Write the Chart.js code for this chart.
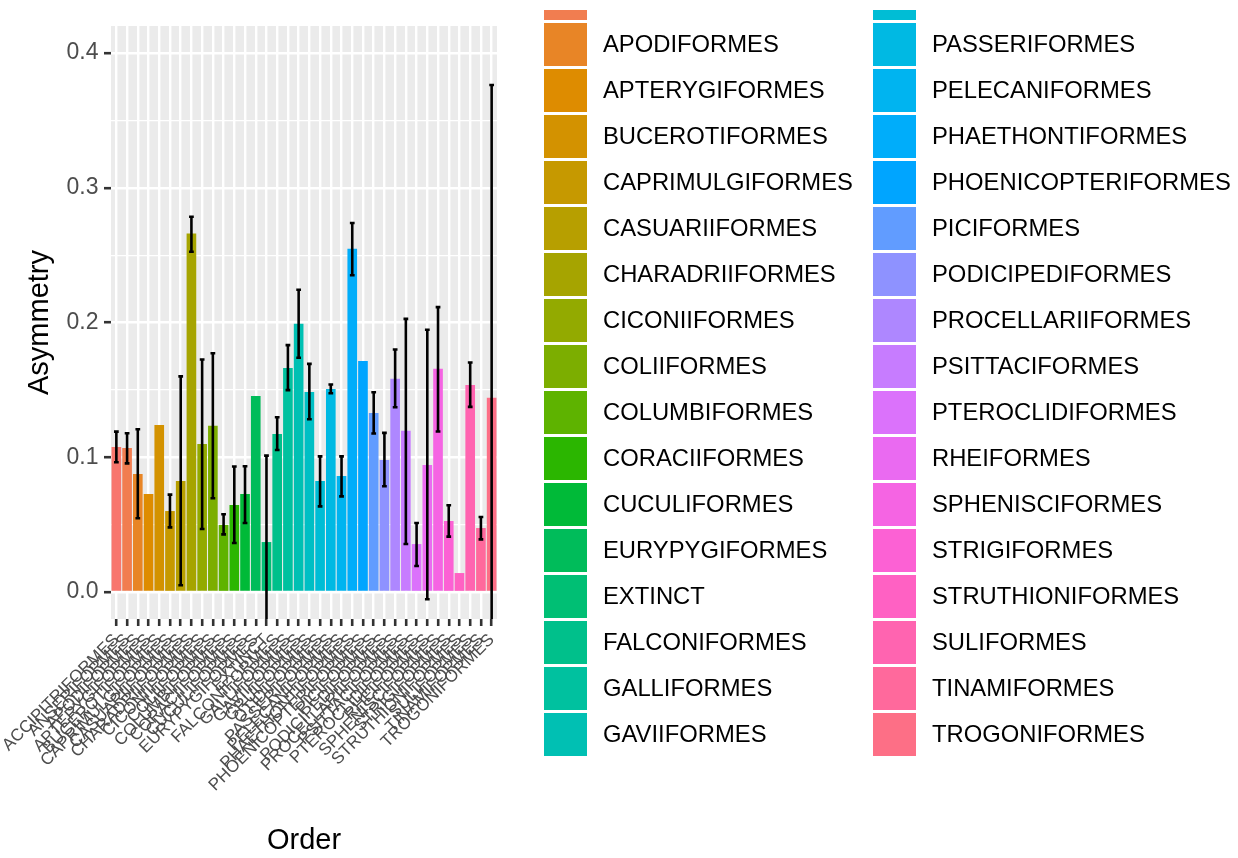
<!DOCTYPE html>
<html>
<head>
<meta charset="utf-8">
<script src="https://cdn.jsdelivr.net/npm/chart.js@4.4.1/dist/chart.umd.min.js"></script>
<style>
  html, body { margin: 0; padding: 0; background: #ffffff; }
  canvas { display: block; }
</style>
</head>
<body>
<canvas id="chart" width="1238" height="858"></canvas>
<script>
// Bird orders on the x axis (also the fill legend)
const orders = [
  'ACCIPITRIFORMES', 'ANSERIFORMES', 'APODIFORMES', 'APTERYGIFORMES', 'BUCEROTIFORMES',
  'CAPRIMULGIFORMES', 'CASUARIIFORMES', 'CHARADRIIFORMES', 'CICONIIFORMES', 'COLIIFORMES',
  'COLUMBIFORMES', 'CORACIIFORMES', 'CUCULIFORMES', 'EURYPYGIFORMES', 'EXTINCT',
  'FALCONIFORMES', 'GALLIFORMES', 'GAVIIFORMES', 'GRUIFORMES', 'OTIDIFORMES',
  'PASSERIFORMES', 'PELECANIFORMES', 'PHAETHONTIFORMES', 'PHOENICOPTERIFORMES', 'PICIFORMES',
  'PODICIPEDIFORMES', 'PROCELLARIIFORMES', 'PSITTACIFORMES', 'PTEROCLIDIFORMES', 'RHEIFORMES',
  'SPHENISCIFORMES', 'STRIGIFORMES', 'STRUTHIONIFORMES', 'SULIFORMES', 'TINAMIFORMES',
  'TROGONIFORMES'
];

// Mean asymmetry per order
const asymmetry = [
  0.1077, 0.1069, 0.0876, 0.0728, 0.1240,
  0.0601, 0.0824, 0.2661, 0.1099, 0.1233,
  0.0498, 0.0646, 0.0728, 0.1455, 0.0371,
  0.1173, 0.1663, 0.1990, 0.1485, 0.0824,
  0.1507, 0.0861, 0.2547, 0.1715, 0.1329,
  0.0980, 0.1582, 0.1196, 0.0356, 0.0943,
  0.1656, 0.0527, 0.0141, 0.1537, 0.0475,
  0.1441
];

// Error bar ends (null where an order has a single value)
const errLower = [
  0.0963, 0.0955, 0.0547, null, null,
  0.0480, 0.0050, 0.2525, 0.0468, 0.0696,
  0.0428, 0.0364, 0.0512, null, -0.0270,
  0.1054, 0.1498, 0.1738, 0.1282, 0.0636,
  0.1475, 0.0710, 0.2351, null, 0.1176,
  0.0785, 0.1371, 0.0356, 0.0193, -0.0054,
  0.1191, 0.0411, null, 0.1374, 0.0391,
  -0.0880
];
const errUpper = [
  0.1190, 0.1178, 0.1208, null, null,
  0.0723, 0.1600, 0.2785, 0.1725, 0.1772,
  0.0577, 0.0931, 0.0933, null, 0.1012,
  0.1297, 0.1832, 0.2243, 0.1693, 0.1007,
  0.1540, 0.1007, 0.2738, null, 0.1483,
  0.1181, 0.1800, 0.2027, 0.0512, 0.1946,
  0.2114, 0.0644, null, 0.1703, 0.0557,
  0.3762
];

// Y axis: labelled major ticks and unlabelled minor grid lines
const yMajorTicks = [0.0, 0.1, 0.2, 0.3, 0.4];
const yTickLabels = ['0.0', '0.1', '0.2', '0.3', '0.4'];
const yMinorTicks = [0.05, 0.15, 0.25, 0.35];

// ggplot-style hue palette (HCL, c = 100, l = 65)
function hclColor(h, c, l) {
  const hr = h * Math.PI / 180;
  const U = c * Math.cos(hr), V = c * Math.sin(hr);
  const Xn = 95.047, Yn = 100.0, Zn = 108.883;
  const den = Xn + 15 * Yn + 3 * Zn;
  const un = 4 * Xn / den, vn = 9 * Yn / den;
  const Y = Yn * (l > 8 ? Math.pow((l + 16) / 116, 3) : l / 903.3);
  const u = U / (13 * l) + un, v = V / (13 * l) + vn;
  const X = 9 * Y * u / (4 * v);
  const Z = Y * (12 - 3 * u - 20 * v) / (4 * v);
  const x = X / 100, y = Y / 100, z = Z / 100;
  const lin = [
    3.240479 * x - 1.537150 * y - 0.498535 * z,
    -0.969256 * x + 1.875992 * y + 0.041556 * z,
    0.055648 * x - 0.204043 * y + 1.057311 * z
  ];
  const gam = t => t <= 0.0031308 ? 12.92 * t : 1.055 * Math.pow(t, 1 / 2.4) - 0.055;
  const out = lin.map(t => Math.round(255 * Math.min(1, Math.max(0, gam(t)))));
  return 'rgb(' + out.join(',') + ')';
}
const hueColors = orders.map((_, i) => hclColor(15 + 360 * i / orders.length, 100, 65));

const FONT = '"Liberation Sans", Arial, Helvetica, sans-serif';
Chart.defaults.font.family = FONT;

// Grey panel background behind the grid
const panelBackground = {
  id: 'panelBackground',
  beforeDraw(chart) {
    const { ctx, chartArea: a } = chart;
    ctx.save();
    ctx.fillStyle = '#EBEBEB';
    ctx.fillRect(a.left, a.top, a.right - a.left, a.bottom - a.top);
    ctx.restore();
  }
};

// Vertical error bars with small caps
const errorBars = {
  id: 'errorBars',
  afterDatasetsDraw(chart) {
    const { ctx, chartArea: a, scales: { x, y } } = chart;
    const half = (a.right - a.left) / orders.length * 0.1;
    ctx.save();
    ctx.beginPath();
    ctx.rect(a.left, a.top, a.right - a.left, a.bottom - a.top);
    ctx.clip();
    ctx.strokeStyle = '#000000';
    ctx.lineWidth = 2.6;
    ctx.lineCap = 'square';
    orders.forEach((_, i) => {
      if (errLower[i] === null || errUpper[i] === null) return;
      const px = x.getPixelForValue(i);
      const lo = y.getPixelForValue(errLower[i]);
      const hi = y.getPixelForValue(errUpper[i]);
      ctx.beginPath();
      ctx.moveTo(px, lo); ctx.lineTo(px, hi);
      ctx.moveTo(px - half, lo); ctx.lineTo(px + half, lo);
      ctx.moveTo(px - half, hi); ctx.lineTo(px + half, hi);
      ctx.stroke();
    });
    ctx.restore();
  }
};

// Two-column fill legend to the right of the panel
const orderLegend = {
  id: 'orderLegend',
  afterDraw(chart) {
    const ctx = chart.ctx;
    const perColumn = Math.ceil(orders.length / 2);
    ctx.save();
    ctx.beginPath();
    ctx.rect(0, 10, chart.width, chart.height - 10);
    ctx.clip();
    ctx.font = '23.8px ' + FONT;
    ctx.textBaseline = 'middle';
    ctx.textAlign = 'left';
    orders.forEach((name, i) => {
      const col = Math.floor(i / perColumn);
      const row = i % perColumn;
      const bx = col === 0 ? 544 : 873;
      const by = -69 + row * 46;
      ctx.fillStyle = hueColors[i];
      ctx.fillRect(bx, by, 43, 43);
      ctx.fillStyle = '#000000';
      ctx.fillText(name, bx + 59, by + 22.5);
    });
    ctx.restore();
  }
};

const isMajor = v => yMajorTicks.some(t => Math.abs(t - v) < 1e-9);

new Chart(document.getElementById('chart'), {
  type: 'bar',
  data: {
    labels: orders,
    datasets: [{
      data: asymmetry,
      backgroundColor: hueColors,
      borderWidth: 0,
      barPercentage: 0.9,
      categoryPercentage: 1.0
    }]
  },
  options: {
    responsive: false,
    animation: false,
    devicePixelRatio: 1,
    layout: { padding: { left: 0, top: 26, right: 741, bottom: 0 } },
    plugins: {
      legend: { display: false },
      tooltip: { enabled: false }
    },
    scales: {
      x: {
        type: 'category',
        offset: true,
        border: { display: false },
        grid: {
          offset: false,
          color: '#FFFFFF',
          lineWidth: 2.4,
          drawTicks: true,
          tickLength: 7,
          tickWidth: 2.6,
          tickColor: '#333333'
        },
        ticks: {
          autoSkip: false,
          maxRotation: 45,
          minRotation: 45,
          padding: 4,
          color: '#4D4D4D',
          font: { size: 17 }
        },
        title: {
          display: true,
          text: 'Order',
          color: '#000000',
          font: { size: 29 },
          padding: { top: 0, bottom: 0 }
        },
        afterFit(scale) { scale.height = 239; }
      },
      y: {
        min: -0.02,
        max: 0.42,
        border: { display: false },
        afterBuildTicks(scale) {
          scale.ticks = yMajorTicks.concat(yMinorTicks)
            .sort((a, b) => a - b)
            .map(v => ({ value: v }));
        },
        grid: {
          color: '#FFFFFF',
          lineWidth: c => (c.tick && isMajor(c.tick.value)) ? 2.4 : 1.2,
          drawTicks: true,
          tickLength: 7,
          tickWidth: 2.6,
          tickColor: c => (c.tick && isMajor(c.tick.value)) ? '#333333' : 'rgba(0,0,0,0)'
        },
        ticks: {
          autoSkip: false,
          padding: 5.5,
          color: '#4D4D4D',
          font: { size: 23 },
          callback(value) {
            const k = yMajorTicks.findIndex(t => Math.abs(t - value) < 1e-9);
            return k >= 0 ? yTickLabels[k] : '';
          }
        },
        title: {
          display: true,
          text: 'Asymmetry',
          color: '#000000',
          font: { size: 29 },
          padding: { top: 20, bottom: 0 }
        },
        afterFit(scale) { scale.width = 108; }
      }
    }
  },
  plugins: [panelBackground, errorBars, orderLegend]
});
</script>
</body>
</html>
